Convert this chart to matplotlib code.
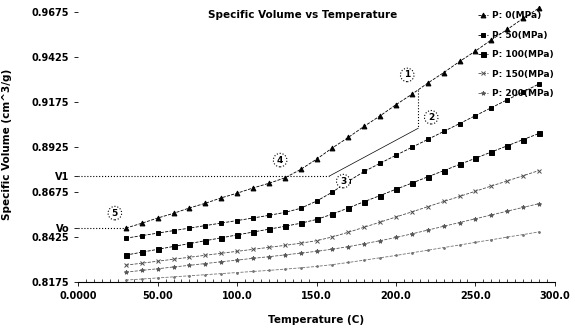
import matplotlib
matplotlib.use('Agg')
import matplotlib.pyplot as plt

# Temperature steps (C), shared by every isobar
temperature = [30, 40, 50, 60, 70, 80, 90, 100, 110, 120, 130, 140, 150, 160,
               170, 180, 190, 200, 210, 220, 230, 240, 250, 260, 270, 280, 290]

# Specific volume (cm^3/g) along each isobar
v_p0 = [0.8475, 0.8502, 0.8531, 0.8557, 0.8587, 0.8613, 0.8643, 0.8669, 0.8698,
        0.8724, 0.8754, 0.8801, 0.8858, 0.8921, 0.8979, 0.9041, 0.9099, 0.9161,
        0.9219, 0.9281, 0.9339, 0.9401, 0.9459, 0.9521, 0.9579, 0.9641, 0.9698]
v_p50 = [0.8419, 0.8433, 0.8447, 0.8461, 0.8475, 0.8489, 0.8503, 0.8517, 0.8531,
         0.8546, 0.8562, 0.8585, 0.8625, 0.8675, 0.8735, 0.8790, 0.8835, 0.8880,
         0.8924, 0.8968, 0.9012, 0.9056, 0.9100, 0.9144, 0.9188, 0.9232, 0.9276]
v_p100 = [0.8325, 0.8341, 0.8357, 0.8373, 0.8389, 0.8405, 0.8421, 0.8437, 0.8453,
          0.8469, 0.8485, 0.8502, 0.8523, 0.8553, 0.8587, 0.8622, 0.8656, 0.8691,
          0.8725, 0.8760, 0.8794, 0.8829, 0.8863, 0.8898, 0.8932, 0.8967, 0.9001]
v_p150 = [0.8269, 0.8280, 0.8291, 0.8302, 0.8313, 0.8324, 0.8335, 0.8346, 0.8357,
          0.8368, 0.8379, 0.8391, 0.8405, 0.8426, 0.8452, 0.8480, 0.8508, 0.8537,
          0.8565, 0.8594, 0.8623, 0.8651, 0.8680, 0.8709, 0.8737, 0.8766, 0.8795]
v_p200 = [0.8230, 0.8240, 0.8249, 0.8259, 0.8268, 0.8278, 0.8288, 0.8297, 0.8307,
          0.8316, 0.8326, 0.8336, 0.8346, 0.8358, 0.8372, 0.8388, 0.8405, 0.8423,
          0.8443, 0.8464, 0.8485, 0.8506, 0.8527, 0.8548, 0.8569, 0.8590, 0.8611]
v_p250 = [0.8186, 0.8192, 0.8198, 0.8204, 0.8210, 0.8216, 0.8222, 0.8228, 0.8234,
          0.8240, 0.8247, 0.8254, 0.8262, 0.8272, 0.8284, 0.8297, 0.8310, 0.8323,
          0.8338, 0.8352, 0.8367, 0.8381, 0.8396, 0.8410, 0.8425, 0.8439, 0.8454]

series_labels = ['P: 0(MPa)', 'P: 50(MPa)', 'P: 100(MPa)', 'P: 150(MPa)',
                 'P: 200(MPa)', '_P: 250(MPa)']

# Marked points (1)..(5): temperature and volume
point_names = ['1', '2', '3', '4', '5']
point_t = [214, 214, 158, 134, 30]
point_v = [0.9243, 0.9030, 0.8764, 0.8764, 0.8475]

y_ticks = [0.8175, 0.8425, 0.8675, 0.8925, 0.9175, 0.9425, 0.9675]
x_ticks = [0, 50, 100, 150, 200, 250, 300]
x_tick_labels = ['0.0000', '50.00', '100.0', '150.0', '200.0', '250.0', '300.0']

plt.rcParams['font.family'] = 'DejaVu Sans'

fig = plt.figure(figsize=(5.75, 3.28), dpi=100)
ax = fig.add_axes([0.136, 0.140, 0.829, 0.842])

series = [v_p0, v_p50, v_p100, v_p150, v_p200, v_p250]
markers = ['^', 's', 's', 'x', '*', '.']
sizes = [3.5, 3.2, 3.6, 2.8, 3.0, 2.5]
colours = ['black', 'black', 'black', '0.3', '0.35', '0.45']
for vals, m, ms, c, lab in zip(series, markers, sizes, colours, series_labels):
    ax.plot(temperature, vals, marker=m, ms=ms, color=c, lw=0.6, ls='--',
            mew=0.7, label=lab)

# Guide lines between the marked points
p1, p2, p3, p4, p5 = [(t, v) for t, v in zip(point_t, point_v)]
ax.plot([0, p3[0]], [p4[1], p3[1]], ls=':', color='black', lw=0.8)
ax.plot([0, p5[0]], [p5[1], p5[1]], ls=':', color='black', lw=0.8)
ax.plot([p1[0], p2[0]], [p1[1], p2[1]], ls=':', color='black', lw=0.8)
ax.plot([p3[0], p2[0]], [p3[1], p2[1]], ls='-', color='black', lw=0.5)

offsets = [(-11, 15), (13, 11), (14, -5), (-11, 16), (-11, 15)]
for name, t, v, off in zip(point_names, point_t, point_v, offsets):
    ax.annotate(name, (t, v), xytext=off, textcoords='offset pixels',
                ha='center', va='center', fontsize=6.5, fontweight='bold',
                bbox=dict(boxstyle='circle,pad=0.25', fc='white', ec='black',
                          ls=':', lw=0.8))

ax.set_xlim(0, 300)
ax.set_ylim(0.8175, 0.9710)
ax.set_xticks(x_ticks)
ax.set_xticklabels(x_tick_labels)
ax.set_yticks(y_ticks + [point_v[3], point_v[4]])
ax.set_yticklabels(['%.4f' % t for t in y_ticks] + ['V1', 'Vo'])
ax.tick_params(axis='both', labelsize=7, length=3, width=0.6)
for lab in ax.get_xticklabels() + ax.get_yticklabels():
    lab.set_fontweight('bold')
ax.set_xticks(range(0, 301, 5), minor=True)
ax.tick_params(axis='x', which='minor', length=2, direction='in', width=0.5)

for side in ['top', 'right', 'left']:
    ax.spines[side].set_visible(False)
ax.spines['bottom'].set_linewidth(0.8)

ax.text(0.47, 0.985, 'Specific Volume vs Temperature', transform=ax.transAxes,
        ha='center', va='top', fontsize=7.5, fontweight='bold')
ax.set_xlabel('Temperature (C)', fontsize=7.5, fontweight='bold', labelpad=10)
ax.set_ylabel('Specific Volume (cm^3/g)', fontsize=7.5, fontweight='bold',
              labelpad=14)

fig.legend(loc='upper left', bbox_to_anchor=(0.818, 0.99), frameon=False,
           fontsize=6.5, handlelength=1.0, handletextpad=0.5, labelspacing=1.15,
           prop={'weight': 'bold', 'size': 6.5})

fig.savefig('out.png', dpi=100)
